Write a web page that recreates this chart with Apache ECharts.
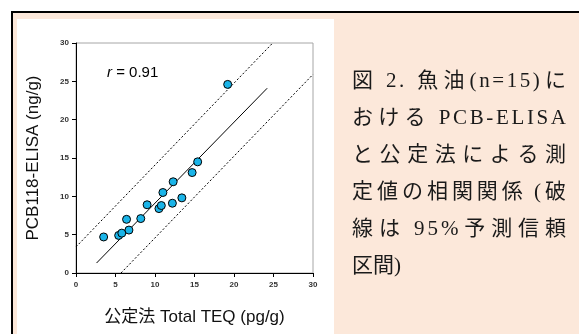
<!DOCTYPE html>
<html>
<head>
<meta charset="utf-8">
<script src="https://cdn.jsdelivr.net/npm/echarts@6/dist/echarts.min.js"></script>
<style>
html,body{margin:0;padding:0;background:#fff;}
#c{width:579px;height:334px;}
</style>
</head>
<body>
<div id="c"></div>
<script>
// ---- data ----
const xTicks = [0, 5, 10, 15, 20, 25, 30];
const yTicks = [0, 5, 10, 15, 20, 25, 30];
const totalTEQ = [3.5, 5.4, 5.8, 6.4, 6.7, 8.2, 9.0, 10.5, 10.8, 11.0, 12.2, 12.3, 13.4, 14.7, 15.4, 19.2];
const elisa    = [4.7, 4.9, 5.2, 7.0, 5.6, 7.1, 8.9, 8.4, 8.8, 10.5, 9.1, 11.9, 9.8, 13.1, 14.5, 24.6];
const regLineX = [2.6, 24.2];
const regLineY = [1.3, 24.1];
const upperPIX = [0, 24.9];
const upperPIY = [3.4, 30];
const lowerPIX = [5.7, 30];
const lowerPIY = [0, 25.9];
const rText = '0.91';
const captionLines = [
  '図 2. 魚油(n=15)に',
  'おける PCB-ELISA',
  'と公定法による測',
  '定値の相関関係 (破',
  '線は 95%予測信頼',
  '区間)'
];

const zip = (a, b) => a.map((v, i) => [v, b[i]]);

const chart = echarts.init(document.getElementById('c'), null, {renderer: 'canvas'});

// caption layout (justified like a word processor)
const capFont = '21px "Liberation Serif", "Noto Sans CJK JP"';
const cv = document.createElement('canvas').getContext('2d');
cv.font = capFont;
const capLeft = 352, capRight = 566, capTop = 81, capStep = 37;
const isCJK = ch => /[\u3000-\u9fff\uff00-\uffef]/.test(ch);
const graphics = [];
graphics.push({type: 'rect', z: -10, silent: true, shape: {x: 12, y: 12, width: 600, height: 400},
  style: {fill: '#fce8da', stroke: '#000', lineWidth: 2}});
graphics.push({type: 'rect', z: -9, silent: true, shape: {x: 17, y: 19, width: 317, height: 320},
  style: {fill: '#ffffff'}});
captionLines.forEach((line, li) => {
  const segs = Array.from(line);
  const widths = segs.map(s => cv.measureText(s).width);
  const total = widths.reduce((a, b) => a + b, 0);
  const weights = [];
  for (let i = 0; i < segs.length - 1; i++) {
    weights.push(isCJK(segs[i]) || isCJK(segs[i + 1]) ? 1 : 0.5);
  }
  const wsum = weights.reduce((a, b) => a + b, 0);
  const last = li === captionLines.length - 1;
  const unit = last ? 0 : (capRight - capLeft - total) / wsum;
  let x = capLeft;
  segs.forEach((s, i) => {
    if (s !== ' ') {
      graphics.push({type: 'text', silent: true, x: x, y: capTop + li * capStep,
        style: {text: s, font: capFont, fill: '#1a1a1a', textAlign: 'left', textVerticalAlign: 'middle'}});
    }
    x += widths[i] + (i < weights.length ? weights[i] * unit : 0);
  });
});
graphics.push({type: 'text', silent: true, x: 107, y: 73,
  style: {text: '{i|r} = ' + rText, rich: {i: {fontStyle: 'italic', fontSize: 15, fontFamily: 'Liberation Sans', fill: '#000'}},
    font: '15px "Liberation Sans"', fill: '#000', textVerticalAlign: 'middle'}});

const axisLabelStyle = {fontSize: 8, fontFamily: 'Liberation Sans', color: '#333', fontWeight: 'bold'};

chart.setOption({
  animation: false,
  graphic: graphics,
  grid: {left: 76, right: 266, top: 43, bottom: 61, show: true, borderColor: '#a6a6a6', borderWidth: 1, backgroundColor: '#fff'},
  xAxis: {
    type: 'value', min: xTicks[0], max: xTicks[xTicks.length - 1], interval: xTicks[1] - xTicks[0],
    splitLine: {show: false},
    axisLine: {show: true, onZero: false, lineStyle: {color: '#000', width: 1}},
    axisTick: {show: true, length: 4, inside: false, lineStyle: {color: '#000'}},
    axisLabel: Object.assign({margin: 8}, axisLabelStyle),
    name: '公定法 Total TEQ (pg/g)', nameLocation: 'middle', nameGap: 36,
    nameTextStyle: {fontSize: 17, fontFamily: '"Liberation Sans", "Noto Sans CJK JP"', color: '#111'}
  },
  yAxis: {
    type: 'value', min: yTicks[0], max: yTicks[yTicks.length - 1], interval: yTicks[1] - yTicks[0],
    splitLine: {show: false},
    axisLine: {show: true, onZero: false, lineStyle: {color: '#000', width: 1}},
    axisTick: {show: true, length: 4, inside: false, lineStyle: {color: '#000'}},
    axisLabel: Object.assign({margin: 7}, axisLabelStyle),
    name: 'PCB118-ELISA (ng/g)', nameLocation: 'middle', nameGap: 34, nameRotate: 90,
    nameTextStyle: {fontSize: 17, fontFamily: '"Liberation Sans", "Noto Sans CJK JP"', color: '#111'}
  },
  series: [
    {type: 'line', data: zip(regLineX, regLineY), showSymbol: false, symbol: 'none', z: 2,
      lineStyle: {color: '#000', width: 1}},
    {type: 'line', data: zip(upperPIX, upperPIY), showSymbol: false, symbol: 'none', z: 2, clip: false,
      lineStyle: {color: '#000', width: 1, type: [2, 2]}},
    {type: 'line', data: zip(lowerPIX, lowerPIY), showSymbol: false, symbol: 'none', z: 2,
      lineStyle: {color: '#000', width: 1, type: [2, 2]}},
    {type: 'scatter', data: zip(totalTEQ, elisa), symbol: 'circle', symbolSize: 8, z: 5,
      itemStyle: {color: '#1ab4e8', borderColor: '#000', borderWidth: 1, opacity: 1}}
  ]
});
</script>
</body>
</html>
